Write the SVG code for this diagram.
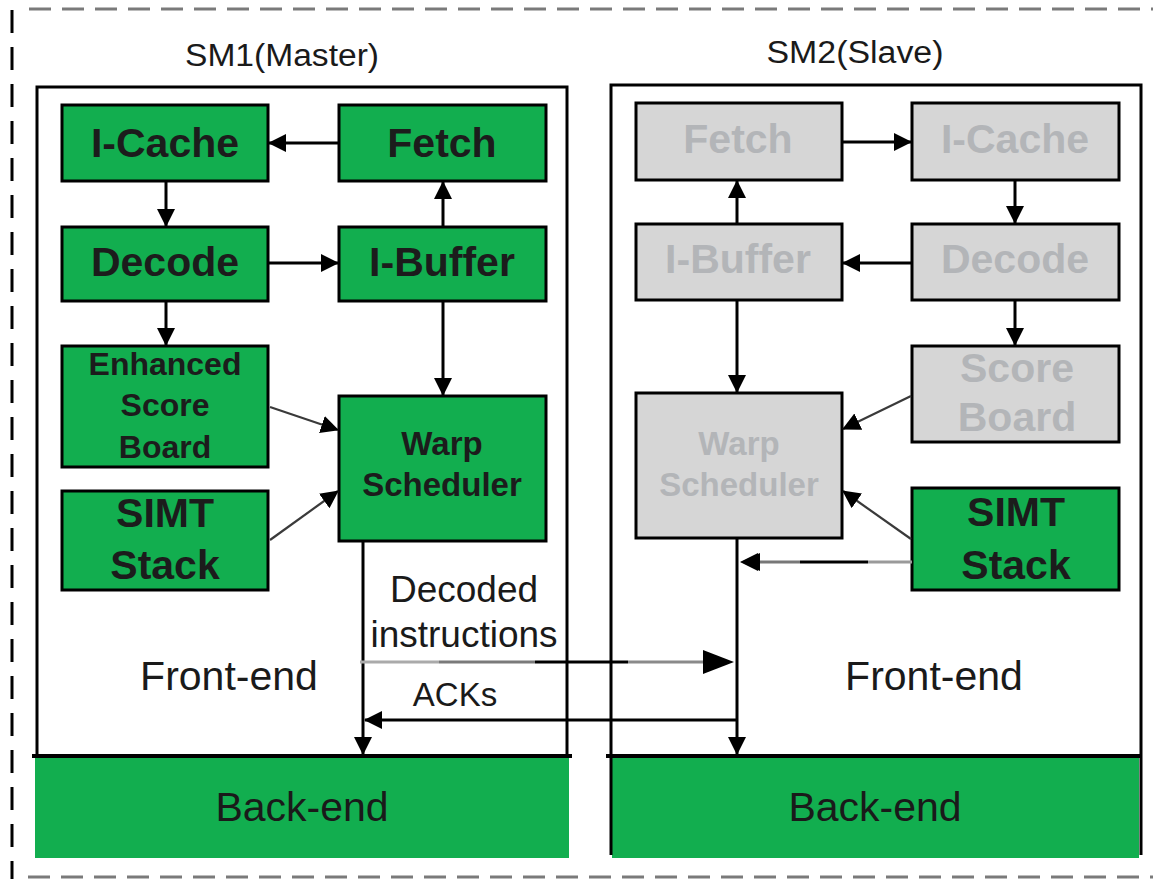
<svg xmlns="http://www.w3.org/2000/svg" width="1153" height="879" viewBox="0 0 1153 879">
  <style>
    .box-on { fill: #12ae4f; stroke: #000; stroke-width: 3; }
    .box-off { fill: #d6d6d6; stroke: #000; stroke-width: 3; }
    .lbl-on { font-family: "Liberation Sans", Arial, sans-serif; font-weight: bold; fill: #1c1c1c; text-anchor: middle; }
    .lbl-off { font-family: "Liberation Sans", Arial, sans-serif; font-weight: bold; fill: #b3b5b8; text-anchor: middle; }
    .plain { font-family: "Liberation Sans", Arial, sans-serif; fill: #1a1a1a; text-anchor: middle; }
    .frame { fill: none; stroke: #000; stroke-width: 3; }
    .wire { fill: none; stroke: #000; stroke-width: 3; }
    .wire-thin { fill: none; stroke: #3a3a3a; stroke-width: 2.2; }
    .big { font-size: 41px; }
    .mid { font-size: 33px; }
  </style>
  <defs>
    <marker id="head" viewBox="0 0 18 18" refX="17" refY="9" markerWidth="18" markerHeight="18" markerUnits="userSpaceOnUse" orient="auto">
      <path d="M0,0 L18,9 L0,18 z" fill="#000"/>
    </marker>
  </defs>

  <!-- dashed outer enclosure -->
  <g id="enclosure">
    <line x1="29" y1="9" x2="1153" y2="9" stroke="#7a7a7a" stroke-width="3" stroke-dasharray="22 11"/>
    <line x1="28" y1="877" x2="1153" y2="877" stroke="#7a7a7a" stroke-width="3" stroke-dasharray="22 11"/>
    <line x1="12" y1="10" x2="12" y2="879" stroke="#000" stroke-width="3" stroke-dasharray="23 14"/>
  </g>

  <!-- SM1 (master) -->
  <g id="sm1">
    <text class="plain" x="282" y="66" font-size="31" textLength="194" lengthAdjust="spacingAndGlyphs">SM1(Master)</text>
    <rect class="frame" x="37" y="87" width="530" height="669"/>
    <rect x="35" y="758" width="534" height="100" fill="#12ae4f"/>
    <line x1="32" y1="756" x2="572" y2="756" stroke="#000" stroke-width="4"/>
    <text class="plain big" x="229" y="690">Front-end</text>
    <text class="plain big" x="302" y="821" fill="#1c2a20">Back-end</text>
  </g>

  <!-- SM2 (slave) -->
  <g id="sm2">
    <text class="plain" x="855" y="63" font-size="31" textLength="177" lengthAdjust="spacingAndGlyphs">SM2(Slave)</text>
    <rect x="612" y="758" width="527" height="100" fill="#12ae4f"/>
    <path class="frame" d="M611,855 V85 H1141 V855"/>
    <line x1="606" y1="756" x2="1141" y2="756" stroke="#000" stroke-width="4"/>
    <text class="plain big" x="934" y="690">Front-end</text>
    <text class="plain big" x="875" y="821" fill="#1c2a20">Back-end</text>
  </g>

  <!-- SM1 pipeline blocks -->
  <g id="sm1-icache">
    <rect class="box-on" x="62" y="105" width="206" height="76"/>
    <text class="lbl-on big" x="165" y="157">I-Cache</text>
  </g>
  <g id="sm1-fetch">
    <rect class="box-on" x="339" y="105" width="207" height="76"/>
    <text class="lbl-on big" x="442" y="157">Fetch</text>
  </g>
  <g id="sm1-decode">
    <rect class="box-on" x="62" y="227" width="206" height="74"/>
    <text class="lbl-on big" x="165" y="276">Decode</text>
  </g>
  <g id="sm1-ibuffer">
    <rect class="box-on" x="339" y="227" width="207" height="74"/>
    <text class="lbl-on big" x="442" y="276">I-Buffer</text>
  </g>
  <g id="sm1-scoreboard">
    <rect class="box-on" x="62" y="346" width="206" height="121"/>
    <text class="lbl-on" font-size="32" x="165" y="375">Enhanced</text>
    <text class="lbl-on" font-size="32" x="165" y="416">Score</text>
    <text class="lbl-on" font-size="32" x="165" y="458">Board</text>
  </g>
  <g id="sm1-simt">
    <rect class="box-on" x="62" y="491" width="206" height="99"/>
    <text class="lbl-on big" x="165" y="527">SIMT</text>
    <text class="lbl-on big" x="165" y="579">Stack</text>
  </g>
  <g id="sm1-warp">
    <rect class="box-on" x="339" y="396" width="207" height="145"/>
    <text class="lbl-on mid" x="442" y="455">Warp</text>
    <text class="lbl-on mid" x="442" y="496">Scheduler</text>
  </g>

  <!-- SM2 pipeline blocks -->
  <g id="sm2-fetch">
    <rect class="box-off" x="636" y="103" width="206" height="77"/>
    <text class="lbl-off big" x="738" y="153">Fetch</text>
  </g>
  <g id="sm2-icache">
    <rect class="box-off" x="912" y="103" width="207" height="77"/>
    <text class="lbl-off big" x="1015" y="153">I-Cache</text>
  </g>
  <g id="sm2-ibuffer">
    <rect class="box-off" x="636" y="224" width="206" height="76"/>
    <text class="lbl-off big" x="738" y="273">I-Buffer</text>
  </g>
  <g id="sm2-decode">
    <rect class="box-off" x="912" y="224" width="207" height="76"/>
    <text class="lbl-off big" x="1015" y="273">Decode</text>
  </g>
  <g id="sm2-scoreboard">
    <rect class="box-off" x="912" y="346" width="207" height="96"/>
    <text class="lbl-off big" x="1017" y="382">Score</text>
    <text class="lbl-off big" x="1017" y="431">Board</text>
  </g>
  <g id="sm2-warp">
    <rect class="box-off" x="636" y="393" width="206" height="145"/>
    <text class="lbl-off mid" x="739" y="455">Warp</text>
    <text class="lbl-off mid" x="739" y="496">Scheduler</text>
  </g>
  <g id="sm2-simt">
    <rect class="box-on" x="912" y="488" width="207" height="102"/>
    <text class="lbl-on big" x="1016" y="526">SIMT</text>
    <text class="lbl-on big" x="1016" y="579">Stack</text>
  </g>

  <!-- connectors -->
  <g id="connectors">
    <!-- SM1 front-end loop -->
    <line class="wire" x1="339" y1="143" x2="269" y2="143" marker-end="url(#head)"/>
    <line class="wire" x1="166" y1="181" x2="166" y2="226" marker-end="url(#head)"/>
    <line class="wire" x1="268" y1="263" x2="338" y2="263" marker-end="url(#head)"/>
    <line class="wire" x1="443" y1="227" x2="443" y2="182" marker-end="url(#head)"/>
    <line class="wire" x1="166" y1="301" x2="166" y2="345" marker-end="url(#head)"/>
    <line class="wire" x1="443" y1="301" x2="443" y2="395" marker-end="url(#head)"/>
    <line class="wire-thin" x1="270" y1="407" x2="338" y2="430" marker-end="url(#head)"/>
    <line class="wire-thin" x1="270" y1="540" x2="338" y2="491" marker-end="url(#head)"/>
    <line class="wire" x1="363" y1="541" x2="363" y2="754" marker-end="url(#head)"/>

    <!-- SM2 front-end loop -->
    <line class="wire" x1="842" y1="142" x2="911" y2="142" marker-end="url(#head)"/>
    <line class="wire" x1="1015" y1="180" x2="1015" y2="223" marker-end="url(#head)"/>
    <line class="wire" x1="912" y1="263" x2="843" y2="263" marker-end="url(#head)"/>
    <line class="wire" x1="737" y1="224" x2="737" y2="181" marker-end="url(#head)"/>
    <line class="wire" x1="1015" y1="300" x2="1015" y2="345" marker-end="url(#head)"/>
    <line class="wire" x1="737" y1="300" x2="737" y2="392" marker-end="url(#head)"/>
    <line class="wire-thin" x1="911" y1="396" x2="843" y2="429" marker-end="url(#head)"/>
    <line class="wire-thin" x1="911" y1="539" x2="843" y2="491" marker-end="url(#head)"/>
    <line class="wire" x1="737" y1="538" x2="737" y2="754" marker-end="url(#head)"/>

    <!-- SIMT stack of SM2 feeding the slave issue path -->
    <line x1="912" y1="562" x2="868" y2="562" stroke="#9a9a9a" stroke-width="3"/>
    <line x1="868" y1="562" x2="800" y2="562" stroke="#000" stroke-width="3"/>
    <line x1="800" y1="562" x2="760" y2="562" stroke="#777" stroke-width="3"/>
    <line x1="760" y1="562" x2="741" y2="562" stroke="none" marker-end="url(#head)"/>
    <path d="M760,553 L741,562 L760,571 z" fill="#000"/>

    <!-- decoded instructions: master to slave -->
    <line x1="360" y1="662" x2="439" y2="662" stroke="#aaa" stroke-width="3"/>
    <line x1="439" y1="662" x2="535" y2="662" stroke="#7a7a7a" stroke-width="3"/>
    <line x1="535" y1="662" x2="628" y2="662" stroke="#000" stroke-width="3"/>
    <line x1="628" y1="662" x2="706" y2="662" stroke="#8a8a8a" stroke-width="3"/>
    <path d="M703,650 L734,662 L703,674 z" fill="#000"/>

    <!-- ACKs: slave to master -->
    <line class="wire" x1="737" y1="720" x2="365" y2="720" marker-end="url(#head)"/>
  </g>

  <!-- link labels -->
  <g id="link-labels">
    <text class="plain" font-size="37" x="464" y="602">Decoded</text>
    <text class="plain" font-size="37" x="464" y="647">instructions</text>
    <text class="plain" font-size="33" x="455" y="706">ACKs</text>
  </g>
</svg>
